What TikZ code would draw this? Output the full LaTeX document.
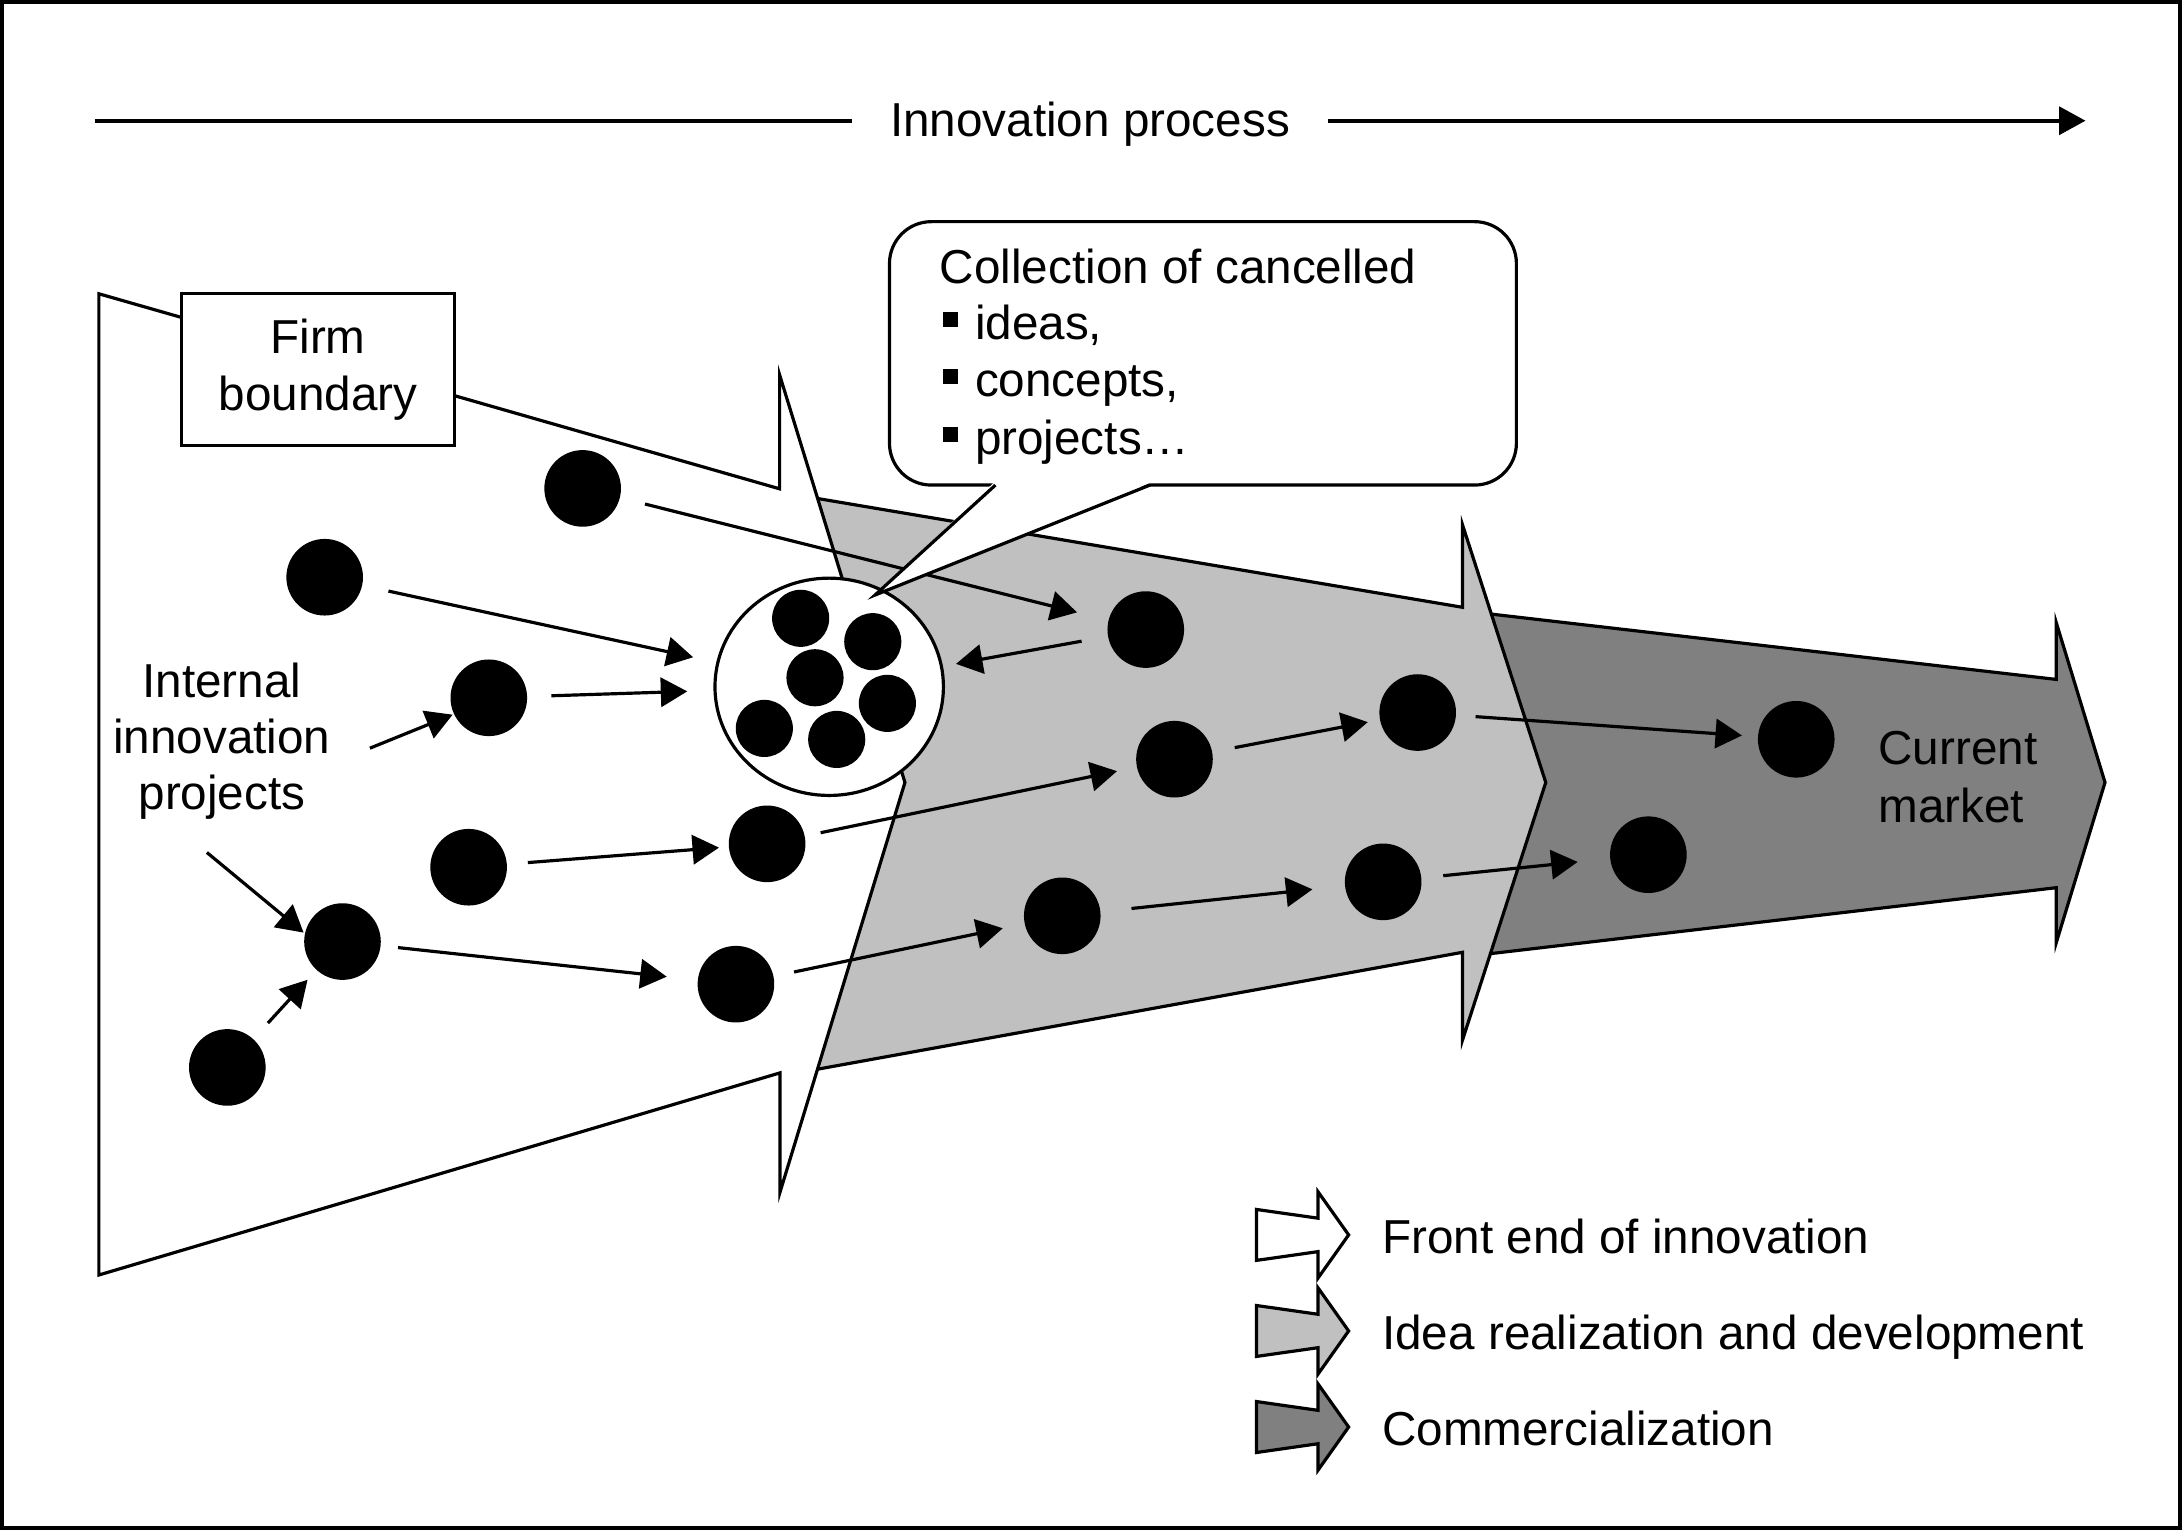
\documentclass[tikz,border=0pt]{standalone}
\usepackage{fontspec}
\setmainfont{Liberation Sans}
\usetikzlibrary{arrows.meta,shapes.geometric}
\definecolor{lgray}{RGB}{192,192,192}
\definecolor{dgray}{RGB}{128,128,128}
\begin{document}
\begin{tikzpicture}[x=0.01cm,y=-0.01cm,
  font=\fontsize{9.73pt}{11.67pt}\selectfont,
  line width=0.65pt,
  bdot/.style={circle,fill=black,minimum size=0.55cm,inner sep=0pt},
  sdot/.style={circle,fill=black,minimum size=0.41cm,inner sep=0pt},
  conn/.style={-{Triangle[length=0.19cm,width=0.21cm]}},
  ctxt/.style={inner sep=0pt,anchor=base},
  ltxt/.style={inner sep=0pt,anchor=base west},
  stagearrow/.style={draw,line join=miter}
]
\useasboundingbox (0,0) rectangle (1568,1099);
\fill[white] (0,0) rectangle (1568,1099);
\draw[line width=0.85pt] (1.5,1.5) rectangle (1566,1097.5);

% stage arrows
\draw[stagearrow,fill=dgray] (1060,439.8) -- (1477,488) -- (1477,447.3) -- (1512,562) -- (1477,677) -- (1477,637.6) -- (1060,686.2) -- cycle;
\draw[stagearrow,fill=lgray] (565,354.3) -- (1050.5,436.2) -- (1050.5,377) -- (1110.3,562) -- (1050.5,747) -- (1050.5,684) -- (565,772) -- cycle;
\draw[stagearrow,fill=white] (71,211) -- (560,351.1) -- (560,269.3) -- (650,562) -- (560.3,856.2) -- (560.3,770.6) -- (71,915.8) -- cycle;

% firm boundary box
\node[draw,fill=white,minimum width=1.956cm,minimum height=1.09cm,inner sep=0pt,align=center] (firm) at (228.4,265.5) {Firm\\boundary};

% collection of cancelled items
\node[ellipse,draw,fill=white,minimum width=1.64cm,minimum height=1.56cm,inner sep=0pt] (coll) at (595.6,493.3) {};
\node[sdot] (c1) at (575.1,444.1) {};
\node[sdot] (c2) at (626.9,460.9) {};
\node[sdot] (c3) at (585.4,486.8) {};
\node[sdot] (c4) at (637.4,505.2) {};
\node[sdot] (c5) at (549,523.2) {};
\node[sdot] (c6) at (601,531.1) {};

% projects
\node[bdot] (d1) at (418.5,350.8) {};
\node[bdot] (d2) at (233.2,414.6) {};
\node[bdot] (d3) at (351.1,501.2) {};
\node[bdot] (d4) at (336.6,622.9) {};
\node[bdot] (d5) at (551,606.1) {};
\node[bdot] (d6) at (246,676.3) {};
\node[bdot] (d7) at (163.3,766.7) {};
\node[bdot] (d8) at (528.6,706.9) {};
\node[bdot] (d9) at (823,452.2) {};
\node[bdot] (d10) at (843.6,545.3) {};
\node[bdot] (d11) at (1018.3,511.8) {};
\node[bdot] (d12) at (763,657.8) {};
\node[bdot] (d13) at (993.5,633.4) {};
\node[bdot] (d14) at (1290.2,531) {};
\node[bdot] (d15) at (1184,613.9) {};

% labels
\node[ctxt] (int1) at (159.4,501.2) {Internal};
\node[ctxt] (int2) at (159.4,541.3) {innovation};
\node[ctxt] (int3) at (159.4,581.4) {projects};
\coordinate (d0) at (265.7,537.4);
\coordinate (e0) at (148.6,612.3);
\node[ltxt] (cm1) at (1348.2,549.4) {Current};
\node[ltxt] (cm2) at (1348.2,591) {market};

% connectors
\draw[conn,shorten <=0.175cm,shorten >=0.222cm] (d1) -- (d9);
\draw[conn,shorten <=0.182cm,shorten >=0.17cm] (d2) -- (coll);
\draw[conn,shorten <=0.163cm,shorten >=0.188cm] (d3) -- (coll);
\draw[conn] (d0) -- (d3.205);
\draw[conn] (e0) -- (d6.167);
\draw[conn,shorten <=0.145cm,shorten >=0.085cm] (d7) -- (d6);
\draw[conn,shorten <=0.14cm,shorten >=0.06cm] (d4) -- (d5);
\draw[conn,shorten <=0.106cm,shorten >=0.135cm] (d5) -- (d10);
\draw[conn,shorten <=0.115cm,shorten >=0.213cm] (d6) -- (d8);
\draw[conn,shorten <=0.14cm,shorten >=0.15cm] (d8) -- (d12);
\draw[conn,shorten <=0.182cm,shorten >=0.095cm] (d9) -- (coll);
\draw[conn,shorten <=0.154cm,shorten >=0.078cm] (d10) -- (d11);
\draw[conn,shorten <=0.213cm,shorten >=0.224cm] (d12) -- (d13);
\draw[conn,shorten <=0.13cm,shorten >=0.104cm] (d11) -- (d14);
\draw[conn,shorten <=0.147cm,shorten >=0.224cm] (d13) -- (d15);

% callout
\coordinate (ctip) at (628.5,427.4);
\draw[fill=white,rounded corners=0.3cm] (638.9,159.2) rectangle (1089.2,348.4);
\fill[white] (714,346.5) -- (827,346.5) -- (ctip) -- cycle;
\draw[line join=miter] (715,348.4) -- (ctip) -- (826,348.4);
\node[ltxt] (cc0) at (674,203.5) {Collection of cancelled};
\node[ltxt] (cc1) at (676.4,244.2) {\rule[0.095cm]{0.108cm}{0.108cm}\hspace{0.12cm}ideas,};
\node[ltxt] (cc2) at (676.4,285) {\rule[0.095cm]{0.108cm}{0.108cm}\hspace{0.12cm}concepts,};
\node[ltxt] (cc3) at (676.4,326.8) {\rule[0.095cm]{0.108cm}{0.108cm}\hspace{0.12cm}projects…};

% innovation process
\node[ctxt,inner xsep=0.26cm] (ip) at (783,98.2) {Innovation process};
\coordinate (ipA) at (68,86.7);
\coordinate (ipB) at (1498,86.7);
\draw[line width=0.8pt] (ipA) -- (ipA -| ip.west);
\draw[line width=0.8pt,-{Triangle[length=0.19cm,width=0.2cm]}] (ipB -| ip.east) -- (ipB);

% legend
\foreach \yy/\cc in {887/white,956/lgray,1025/dgray}{
  \draw[stagearrow,fill=\cc] (902.5,\yy-18.3) -- (946.7,\yy-12) -- (946.7,\yy-31) -- (968.7,\yy) -- (946.7,\yy+31) -- (946.7,\yy+12) -- (902.5,\yy+18.3) -- cycle;
}
\node[ltxt] (lg1) at (991.7,900.3) {Front end of innovation};
\node[ltxt] (lg2) at (991.7,969) {Idea realization and development};
\node[ltxt] (lg3) at (991.7,1038) {Commercialization};
\end{tikzpicture}
\end{document}
